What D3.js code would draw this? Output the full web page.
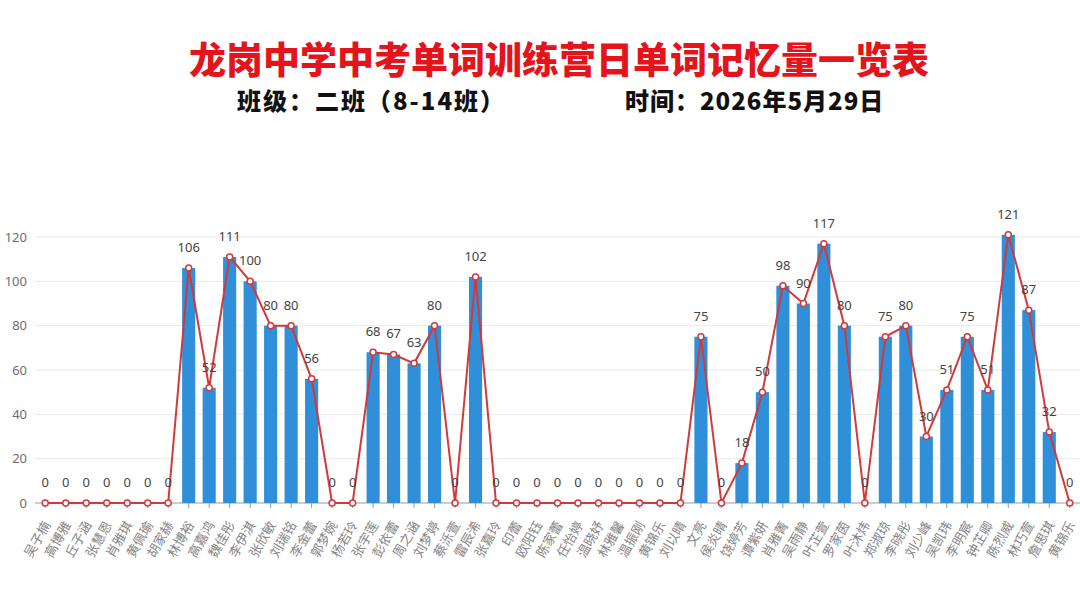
<!DOCTYPE html>
<html>
<head>
<meta charset="utf-8">
<script src="https://cdn.jsdelivr.net/npm/d3@7"></script>
<style>
    body { margin: 0; background: #ffffff; }
    #chart { width: 1080px; height: 608px; }
</style>
</head>
<body>
<div id="chart"></div>
<script>
// Data
const students = [
    "吴子楠", "高博雅", "丘子涵", "张慧恩", "肖雅琪", "黄佩瑜", "胡家赫", "林博裕", "高嘉鸿", "魏佳彤",
    "李伊淇", "张欣敏", "刘瑞铭", "李金蕾", "郭梦婉", "杨若玲", "张宇莲", "彭依蕾", "周之涵", "刘梦婷",
    "蔡泺萱", "雷辰浠", "张嘉玲", "印蕾", "欧阳钰", "陈家蕾", "任怡婷", "温晓妤", "林雅馨", "温振刚",
    "黄锦乐", "刘以晴", "文亮", "侯炎晴", "饶婷芳", "谭紫妍", "肖雅菁", "吴雨静", "叶芷萱", "罗家茵",
    "叶沐炜", "郑淑琼", "李晓彤", "刘少峰", "吴凯玮", "李明宸", "钟芷卿", "陈烈威", "林巧萱", "詹思琪",
    "黄锦乐"
];
const words = [
    0, 0, 0, 0, 0, 0, 0, 106, 52, 111,
    100, 80, 80, 56, 0, 0, 68, 67, 63, 80,
    0, 102, 0, 0, 0, 0, 0, 0, 0, 0,
    0, 0, 75, 0, 18, 50, 98, 90, 117, 80,
    0, 75, 80, 30, 51, 75, 51, 121, 87, 32,
    0
];
const yTicks = [0, 20, 40, 60, 80, 100, 120];

const titleText = "龙岗中学中考单词训练营日单词记忆量一览表";
const classText = "班级：二班（8-14班）";
const dateText = "时间：2026年5月29日";

// Layout
const width = 1080;
const height = 608;
const margin = { top: 237, right: 0, bottom: 105, left: 35 };

const svg = d3.select("#chart")
    .append("svg")
    .attr("width", width)
    .attr("height", height);

svg.append("rect")
    .attr("width", width)
    .attr("height", height)
    .attr("fill", "#ffffff");

// Titles
svg.append("text")
    .attr("x", 559)
    .attr("y", 74)
    .attr("text-anchor", "middle")
    .attr("font-family", "Noto Sans CJK SC")
    .attr("font-weight", 900)
    .attr("font-size", "37px")
    .attr("fill", "#e3141c")
    .text(titleText);

svg.append("text")
    .attr("x", 237)
    .attr("y", 110)
    .attr("font-family", "Noto Sans CJK SC")
    .attr("font-weight", 900)
    .attr("font-size", "24px")
    .attr("letter-spacing", "2px")
    .attr("fill", "#111111")
    .text(classText);

svg.append("text")
    .attr("x", 625)
    .attr("y", 110)
    .attr("font-family", "Noto Sans CJK SC")
    .attr("font-weight", 900)
    .attr("font-size", "24px")
    .attr("letter-spacing", "1px")
    .attr("fill", "#111111")
    .text(dateText);

// Scales
const idx = d3.range(students.length);
const x = d3.scaleBand()
    .domain(idx)
    .range([margin.left, width - margin.right])
    .paddingInner(0.36)
    .paddingOuter(0.18);

const y = d3.scaleLinear()
    .domain([0, 120])
    .range([height - margin.bottom, margin.top]);

const cx = (i) => x(i) + x.bandwidth() / 2;

// Grid lines
svg.append("g")
    .selectAll("line")
    .data(yTicks.filter((t) => t > 0))
    .enter()
    .append("line")
    .attr("x1", margin.left)
    .attr("x2", width)
    .attr("y1", (d) => y(d))
    .attr("y2", (d) => y(d))
    .attr("stroke", "#e9e9e9")
    .attr("stroke-width", 1);

// Y axis labels
const yAxis = svg.append("g")
    .attr("transform", `translate(${margin.left},0)`)
    .call(d3.axisLeft(y).tickValues(yTicks).tickSize(0).tickPadding(8));
yAxis.select(".domain").remove();
yAxis.selectAll("text")
    .attr("font-family", "Noto Sans, Noto Sans CJK SC")
    .attr("font-size", "13px")
    .attr("fill", "#6e6e6e");

// X axis
const xAxis = svg.append("g")
    .attr("transform", `translate(0,${y(0)})`)
    .call(d3.axisBottom(x).tickFormat((i) => students[i]).tickSize(5).tickPadding(4));
xAxis.select(".domain")
    .attr("stroke", "#9a9a9a")
    .attr("d", `M${margin.left},0H${width}`);
xAxis.selectAll(".tick line").attr("stroke", "#9a9a9a");
xAxis.selectAll("text")
    .attr("font-family", "Noto Sans CJK SC")
    .attr("font-size", "13px")
    .attr("fill", "#858585")
    .attr("text-anchor", "end")
    .attr("dy", "0.35em")
    .attr("transform", "translate(-6,15) rotate(-60)");

// Bars
svg.append("g")
    .selectAll("rect")
    .data(words)
    .enter()
    .append("rect")
    .attr("x", (d, i) => x(i))
    .attr("y", (d) => y(d))
    .attr("width", x.bandwidth())
    .attr("height", (d) => y(0) - y(d))
    .attr("fill", "#2f8fd8");

// Line
const line = d3.line()
    .x((d, i) => cx(i))
    .y((d) => y(d));

svg.append("path")
    .datum(words)
    .attr("d", line)
    .attr("fill", "none")
    .attr("stroke", "#d2393b")
    .attr("stroke-width", 2);

svg.append("g")
    .selectAll("circle")
    .data(words)
    .enter()
    .append("circle")
    .attr("cx", (d, i) => cx(i))
    .attr("cy", (d) => y(d))
    .attr("r", 3)
    .attr("fill", "#ffffff")
    .attr("stroke", "#d2393b")
    .attr("stroke-width", 1.5);

// Value labels
svg.append("g")
    .selectAll("text")
    .data(words)
    .enter()
    .append("text")
    .attr("x", (d, i) => cx(i))
    .attr("y", (d) => y(d) - 16)
    .attr("text-anchor", "middle")
    .attr("font-family", "Noto Sans, Noto Sans CJK SC")
    .attr("font-size", "13px")
    .attr("fill", "#444444")
    .text((d) => d);
</script>
</body>
</html>
